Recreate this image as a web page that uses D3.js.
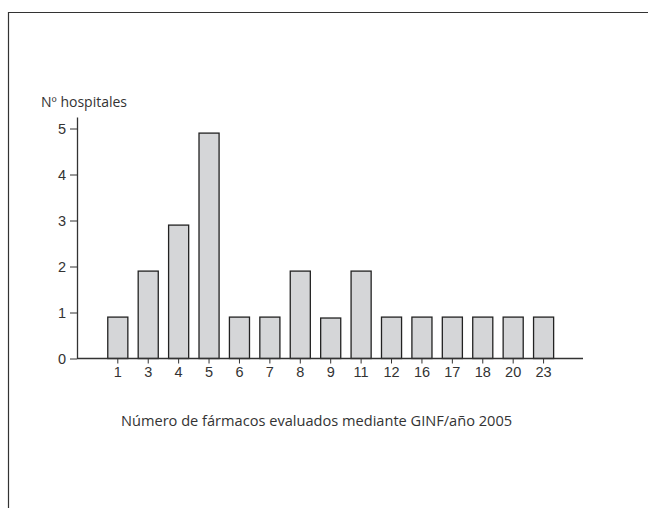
<!DOCTYPE html>
<html>
<head>
<meta charset="utf-8">
<script src="https://cdn.jsdelivr.net/npm/d3@7"></script>
<style>
  body { margin: 0; background: #fff; }
  svg { display: block; font-family: 'Open Sans', sans-serif; }
  .axis text { fill: #333; font-size: 14.5px; }
  .axis line, .axis path { stroke: #333; }
</style>
</head>
<body>
<div id="chart"></div>
<script>
// datos
var categories = ['1', '3', '4', '5', '6', '7', '8', '9', '11', '12', '16', '17', '18', '20', '23'];
var hospitals = [0.9, 1.9, 2.9, 4.9, 0.9, 0.9, 1.9, 0.88, 1.9, 0.9, 0.9, 0.9, 0.9, 0.9, 0.9];
var yTicks = [0, 1, 2, 3, 4, 5];
var yLabel = 'Nº hospitales';
var xLabel = 'Número de fármacos evaluados mediante GINF/año 2005';

var W = 648, H = 508;
var svg = d3.select('#chart').append('svg').attr('width', W).attr('height', H);

// marco del recuadro (sin borde derecho ni inferior visibles)
svg.append('path')
    .attr('d', 'M8.5,' + H + 'V12.5H' + W)
    .attr('fill', 'none')
    .attr('stroke', '#333')
    .attr('stroke-width', 1.2);

var axisX = 77, baseY = 358.5;

var x = d3.scaleBand()
    .domain(categories)
    .range([102.6, 558.8])
    .paddingInner(0.34)
    .paddingOuter(0.17);

var y = d3.scaleLinear()
    .domain([0, 5.25])
    .range([baseY, baseY - 5.25 * 46]);

// barras
svg.selectAll('.bar').data(hospitals)
    .enter().append('rect')
    .attr('class', 'bar')
    .attr('x', function(d, i) { return x(categories[i]); })
    .attr('width', x.bandwidth())
    .attr('y', function(d) { return y(d); })
    .attr('height', function(d) { return y(0) - y(d); })
    .attr('fill', '#d5d6d8')
    .attr('stroke', '#222')
    .attr('stroke-width', 1.3);

// eje x
var gx = svg.append('g')
    .attr('class', 'x axis')
    .attr('transform', 'translate(0,' + baseY + ')')
    .call(d3.axisBottom(x).tickSize(5).tickPadding(1));
gx.select('.domain').remove();
gx.selectAll('text').attr('dy', '0.85em');
gx.append('line')
    .attr('x1', axisX).attr('x2', 583)
    .attr('stroke', '#333').attr('stroke-width', 1.3);

// eje y
var gy = svg.append('g')
    .attr('class', 'y axis')
    .attr('transform', 'translate(' + axisX + ',0)')
    .call(d3.axisLeft(y).tickValues(yTicks).tickFormat(d3.format('d'))
        .tickSize(7).tickSizeOuter(0).tickPadding(4));
gy.select('.domain').attr('stroke-width', 1.3);

svg.append('text')
    .attr('x', 41).attr('y', 107)
    .style('fill', '#333').style('font-size', '14px')
    .text(yLabel);

svg.append('text')
    .attr('x', 121).attr('y', 426)
    .style('fill', '#333').style('font-size', '14.6px')
    .text(xLabel);
</script>
</body>
</html>
